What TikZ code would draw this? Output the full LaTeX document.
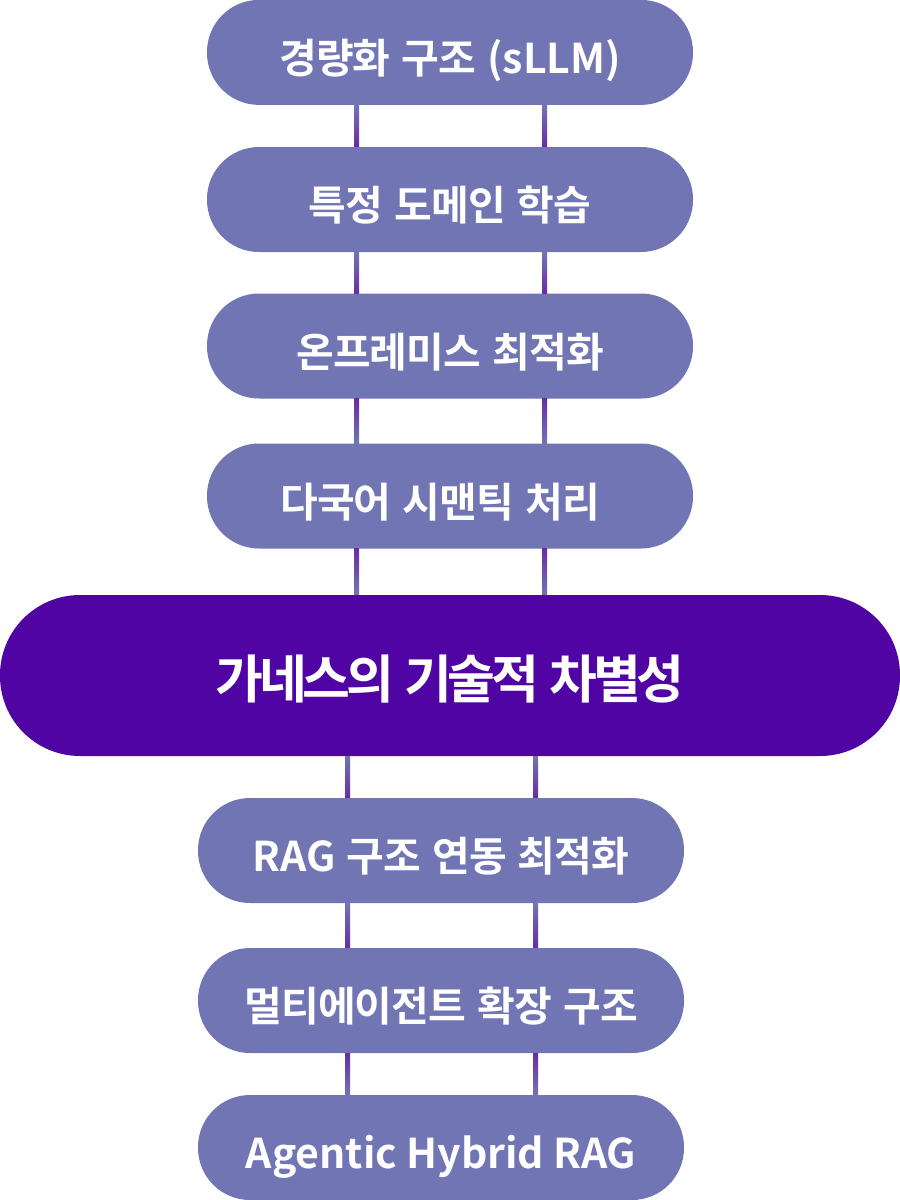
\documentclass[tikz,border=0pt]{standalone}
\usepackage{fontspec}
\newfontfamily\kofont{Noto Sans CJK KR}[BoldFont={* Bold}, LetterSpace=-2, WordSpace=1.3]
\newfontfamily\corefont{Noto Sans CJK KR}[BoldFont={* Bold}, LetterSpace=-8, WordSpace=1.3]
\newfontfamily\engfont{Noto Sans CJK KR}[BoldFont={* Bold}]
\newcommand{\engtxt}[1]{{\engfont\bfseries #1}}
\usepackage{tikz}
\usetikzlibrary{calc}
\usepackage{xcolor}
\definecolor{pillblue}{RGB}{113,117,179}
\definecolor{corepurple}{RGB}{79,4,163}
\definecolor{linkdark}{RGB}{106,44,166}

\begin{document}
\begin{tikzpicture}[x=1pt, y=-1pt]
        % ================= 样式定义 =================
        \tikzset{
            % 普通步骤:浅紫色胶囊
            pill_node/.style={rectangle, fill=pillblue, rounded corners=52pt, minimum width=486pt, minimum height=105pt, inner sep=0pt, text=white, font=\kofont\bfseries\fontsize{41}{50}\selectfont, text height=42pt, text depth=0pt},
            % 中心节点:深紫色大胶囊
            core_node/.style={rectangle, fill=corepurple, rounded corners=80pt, minimum width=900pt, minimum height=161pt, inner sep=0pt, text=white, font=\corefont\bfseries\fontsize{52}{60}\selectfont, text height=45pt, text depth=0pt}
        }
        \useasboundingbox (0,0) rectangle (900,1200);

        % ================= 上方 4 个步骤 =================
        \node[pill_node] (p1) at (450,52.4) {경량화 구조 \engtxt{(sLLM)}};
        \node[pill_node] (p2) at (450,199.5) {특정 도메인 학습};
        \node[pill_node] (p3) at (450,346) {온프레미스 최적화};
        \node[pill_node] (p4) at (450,496) {다국어 시맨틱 처리\kern20pt};

        % ================= 中心 =================
        \node[core_node] (core) at (450,675.5) {가네스의 기술적 차별성};

        % ================= 下方 3 个步骤 =================
        \node[pill_node] (p5) at (441,850.5) {\engtxt{RAG} 구조 연동 최적화};
        \node[pill_node] (p6) at (441,1000.5) {멀티에이전트 확장 구조};
        \node[pill_node] (p7) at (441,1147.5) {\engtxt{Agentic Hybrid RAG}};

        % 连接线:每对之间两条竖线 (渐变)
        \foreach \a/\b/\r/\ct/\cb in {p1/p2/p1/pillblue/linkdark, p2/p3/p2/pillblue/linkdark, p3/p4/p3/linkdark/pillblue, p4/core/p4/linkdark/pillblue, core/p5/p5/pillblue/linkdark, p5/p6/p5/pillblue/linkdark, p6/p7/p6/linkdark/pillblue} {
            \foreach \dx in {-93.5, 94.5} {
                \shade[top color=\ct, bottom color=\cb] ($(\a.south -| \r.center)+(\dx-2.5,0)$) rectangle ($(\b.north -| \r.center)+(\dx+2.5,0)$);
            }
        }

    \end{tikzpicture}
\end{document}
